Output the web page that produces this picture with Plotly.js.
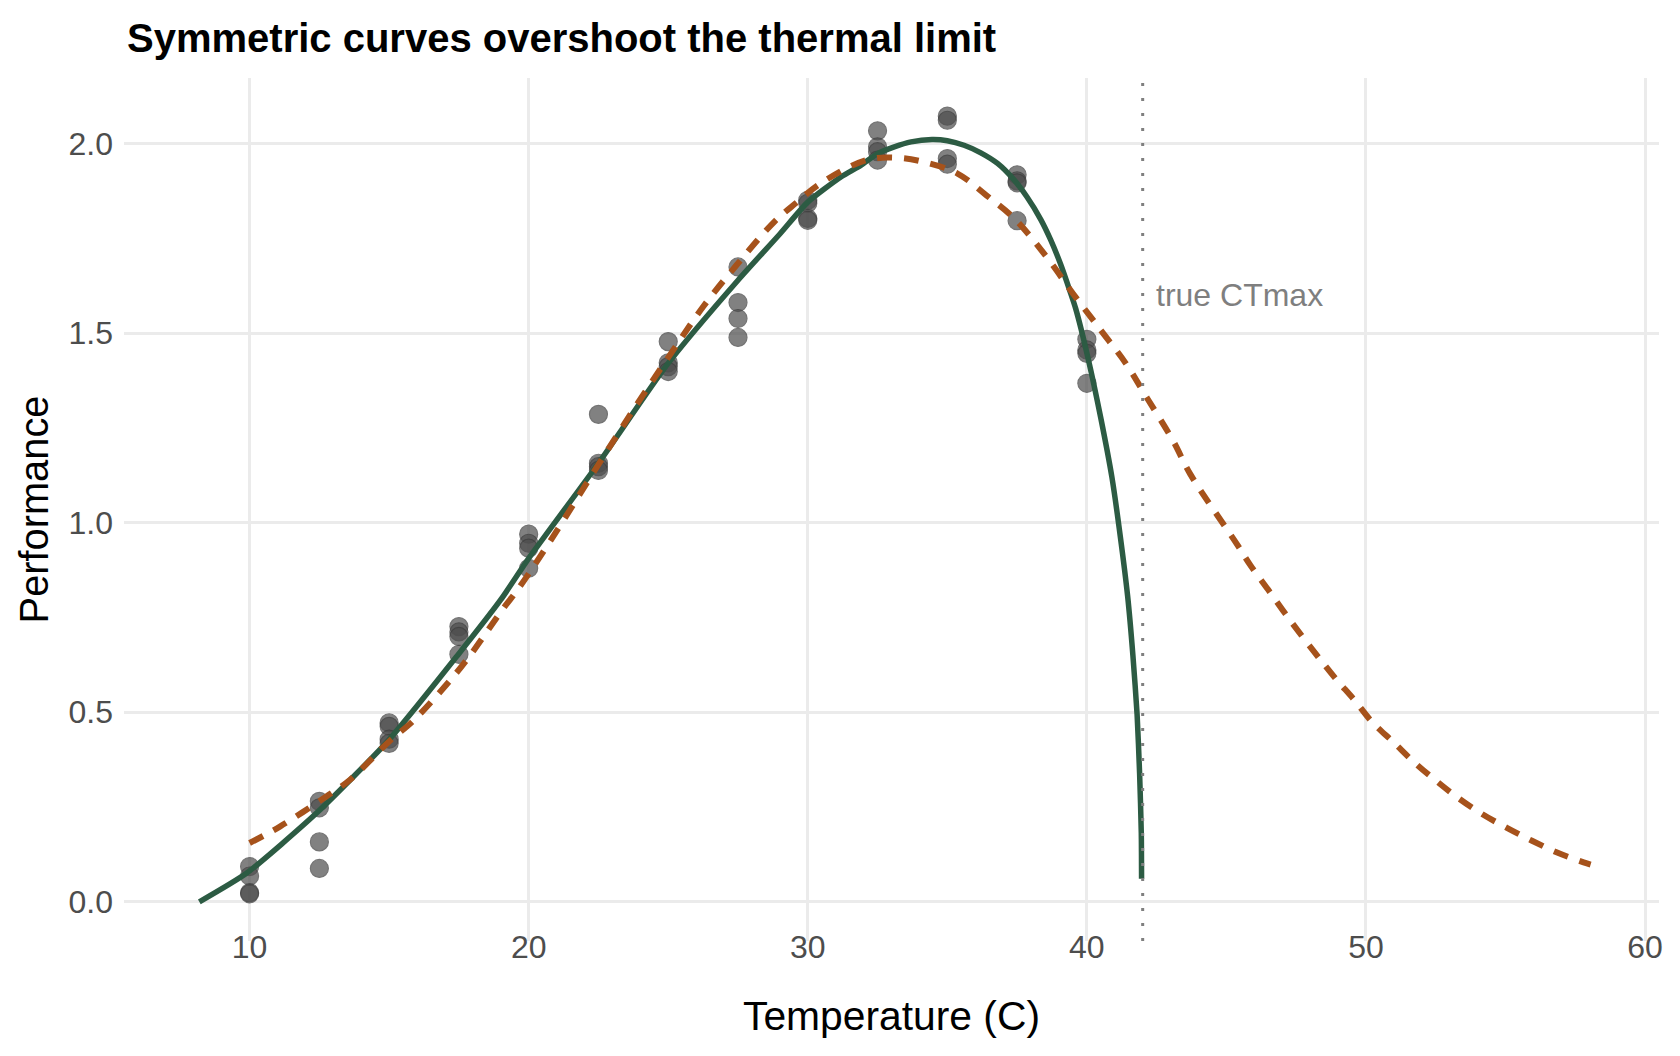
<!DOCTYPE html>
<html>
<head>
<meta charset="utf-8">
<script src="https://cdn.plot.ly/plotly-3.0.1.min.js"></script>
<style>
  html, body { margin: 0; padding: 0; background: #ffffff; }
  #chart { width: 1680px; height: 1056px; }
</style>
</head>
<body>
<div id="chart"></div>
<script>
// Observed data: temperature (C) and performance
const obsTemp = [
  10, 10, 10, 10,
  12.5, 12.5, 12.5, 12.5,
  15, 15, 15, 15,
  17.5, 17.5, 17.5, 17.5,
  20, 20, 20, 20,
  22.5, 22.5, 22.5, 22.5,
  25, 25, 25, 25,
  27.5, 27.5, 27.5, 27.5,
  30, 30, 30, 30,
  32.5, 32.5, 32.5, 32.5,
  35, 35, 35, 35,
  37.5, 37.5, 37.5, 37.5,
  40, 40, 40, 40
];
const obsPerf = [
  0.093, 0.068, 0.024, 0.021,
  0.265, 0.248, 0.158, 0.088,
  0.472, 0.463, 0.429, 0.418,
  0.726, 0.712, 0.700, 0.653,
  0.970, 0.946, 0.933, 0.880,
  1.286, 1.157, 1.148, 1.138,
  1.478, 1.422, 1.412, 1.399,
  1.675, 1.581, 1.539, 1.489,
  1.851, 1.843, 1.803, 1.798,
  2.034, 1.992, 1.979, 1.957,
  2.073, 2.062, 1.961, 1.946,
  1.918, 1.902, 1.897, 1.797,
  1.484, 1.456, 1.447, 1.368
];

// Asymmetric (solid green) fitted curve
const asymTemp = [8.2, 9.9, 12.4, 15.0, 17.45, 19.0, 20.0, 22.5, 25.0, 27.5, 29.0, 30.0, 31.2, 31.9, 32.5, 33.1, 33.7, 34.45, 35.0, 35.6, 36.2, 36.8, 37.4, 37.85, 38.35, 38.7, 39.05, 39.4, 39.6, 40.05, 40.5, 40.9, 41.2, 41.46, 41.65, 41.8, 41.89, 41.95, 41.96];
const asymPerf = [0.0, 0.076, 0.234, 0.428, 0.650, 0.797, 0.906, 1.157, 1.421, 1.640, 1.762, 1.846, 1.913, 1.943, 1.974, 1.992, 2.005, 2.011, 2.008, 1.996, 1.976, 1.948, 1.904, 1.860, 1.800, 1.747, 1.684, 1.610, 1.565, 1.432, 1.276, 1.119, 0.963, 0.807, 0.650, 0.494, 0.338, 0.181, 0.061];

// Symmetric (dashed orange) fitted curve
const symTemp = [10.0, 11.1, 12.75, 13.6, 15.0, 15.9, 17.25, 17.85, 19.1, 19.6, 20.8, 22.45, 23.9, 25.1, 26.25, 27.45, 28.8, 29.6, 30.45, 32.1, 33.2, 34.15, 35.35, 36.4, 37.4, 38.55, 39.5, 40.5, 41.4, 42.15, 43.1, 43.7, 45.4, 45.85, 46.5, 47.1, 47.7, 48.3, 48.9, 49.6, 50.2, 51.0, 51.7, 52.5, 53.3, 54.15, 55.05, 55.95, 56.85, 57.8, 58.05];
const symPerf = [0.155, 0.199, 0.278, 0.322, 0.423, 0.480, 0.590, 0.645, 0.775, 0.823, 0.955, 1.148, 1.315, 1.447, 1.570, 1.680, 1.794, 1.845, 1.895, 1.957, 1.963, 1.952, 1.922, 1.864, 1.803, 1.702, 1.605, 1.508, 1.420, 1.330, 1.215, 1.129, 0.941, 0.889, 0.823, 0.761, 0.702, 0.645, 0.590, 0.531, 0.476, 0.420, 0.370, 0.320, 0.274, 0.232, 0.195, 0.161, 0.130, 0.104, 0.098];

const ctmax = 42;
const ctmaxLabel = "true CTmax";
const ctmaxLabelX = 42.4;
const ctmaxLabelY = 1.6;

const xTicks = [10, 20, 30, 40, 50, 60];
const yTicks = [0.0, 0.5, 1.0, 1.5, 2.0];
const yTickText = ["0.0", "0.5", "1.0", "1.5", "2.0"];

const FONT = "Liberation Sans, Arial, Helvetica, sans-serif";

const traces = [
  {
    type: "scatter", mode: "markers",
    x: obsTemp, y: obsPerf,
    marker: { color: "#4D4D4D", size: 18, opacity: 0.7,
              line: { color: "#3a3a3a", width: 1.2 } },
    hoverinfo: "x+y", showlegend: false
  },
  {
    type: "scatter", mode: "lines",
    x: asymTemp, y: asymPerf,
    line: { color: "#2C5B43", width: 5.5, shape: "spline", smoothing: 0.6 },
    showlegend: false
  },
  {
    type: "scatter", mode: "lines",
    x: symTemp, y: symPerf,
    line: { color: "#A6521B", width: 6, dash: "15px,12px", shape: "spline", smoothing: 1 },
    showlegend: false
  }
];

const layout = {
  width: 1680, height: 1056,
  paper_bgcolor: "#ffffff", plot_bgcolor: "#ffffff",
  margin: { l: 124, r: 21, t: 78, b: 115, pad: 0 },
  font: { family: FONT, color: "#000000" },
  showlegend: false,
  title: {
    text: "<b>Symmetric curves overshoot the thermal limit</b>",
    x: 127 / 1680, xref: "container", xanchor: "left",
    y: 1 - 37.5 / 1056, yref: "container", yanchor: "middle",
    font: { family: FONT, size: 40, color: "#000000" }
  },
  xaxis: {
    range: [5.5, 60.5], tickvals: xTicks, ticktext: xTicks.map(String),
    showgrid: true, gridcolor: "#EBEBEB", gridwidth: 3,
    zeroline: false, showline: false, ticks: "",
    tickfont: { family: FONT, size: 32, color: "#4D4D4D" },
    ticklabelstandoff: -16,
    title: { text: "Temperature (C)", font: { family: FONT, size: 40.8, color: "#000000" }, standoff: 37 },
    automargin: false
  },
  yaxis: {
    range: [-0.1035, 2.1735], tickvals: yTicks, ticktext: yTickText,
    showgrid: true, gridcolor: "#EBEBEB", gridwidth: 3,
    zeroline: false, showline: false, ticks: "",
    tickfont: { family: FONT, size: 32, color: "#4D4D4D" },
    ticklabelstandoff: 10,
    title: { text: "Performance", font: { family: FONT, size: 39.8, color: "#000000" }, standoff: 7 },
    automargin: false
  },
  shapes: [
    {
      type: "line", xref: "x", yref: "paper",
      x0: ctmax, x1: ctmax, y0: 0, y1: 1,
      line: { color: "#7F7F7F", width: 3, dash: "3px,12px" },
      layer: "above"
    }
  ],
  annotations: [
    {
      x: ctmaxLabelX, y: ctmaxLabelY, xref: "x", yref: "y",
      text: ctmaxLabel, showarrow: false, xanchor: "left", yanchor: "middle",
      font: { family: FONT, size: 32, color: "#7F7F7F" }
    }
  ]
};

Plotly.newPlot("chart", traces, layout, { staticPlot: true, displayModeBar: false });
</script>
</body>
</html>
